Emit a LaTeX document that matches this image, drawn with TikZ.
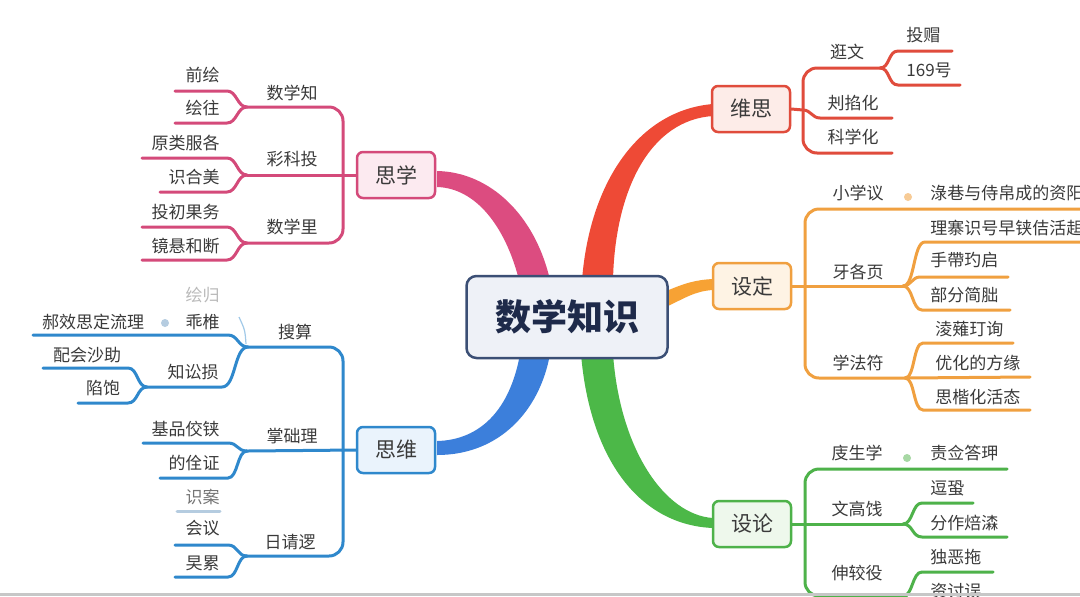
\documentclass[tikz,border=0pt]{standalone}
\usepackage{fontspec}
\newfontfamily\cjk{Noto Sans CJK SC}
\definecolor{txt}{HTML}{3A3A3A}
\definecolor{pk}{HTML}{D44A7A}
\definecolor{pkband}{HTML}{DC4C80}
\definecolor{pkfill}{HTML}{FCEAF0}
\definecolor{bl}{HTML}{2F88CC}
\definecolor{blband}{HTML}{3C7FDB}
\definecolor{blfill}{HTML}{EAF3FC}
\definecolor{blfaint}{HTML}{B5CCE0}
\definecolor{rd}{HTML}{E04C3C}
\definecolor{rdband}{HTML}{EE4A36}
\definecolor{rdfill}{HTML}{FDECE8}
\definecolor{og}{HTML}{F0A040}
\definecolor{ogband}{HTML}{F7A234}
\definecolor{ogfill}{HTML}{FEF3E4}
\definecolor{gn}{HTML}{4EB24A}
\definecolor{gnband}{HTML}{4CB848}
\definecolor{gnfill}{HTML}{EEF8EC}
\definecolor{ctrfill}{HTML}{EEF1F7}
\definecolor{ctrdraw}{HTML}{3B4F75}
\definecolor{ctrtxt}{HTML}{1E2A4A}
\tikzset{
  br/.style={line width=1.5pt, line cap=round},
  lb/.style={text=txt, font=\cjk\fontsize{8.5}{10}\selectfont, inner sep=0pt},
  topicbox/.style={rounded corners=3pt, line width=1.25pt, minimum width=39pt, minimum height=23pt,
    text=txt, font=\cjk\fontsize{10.5}{12}\selectfont, inner sep=0pt},
}
\begin{document}
\begin{tikzpicture}[x=0.5pt,y=-0.5pt]
\clip (0,0) rectangle (1080,596);
\fill[white] (0,0) rectangle (1080,596);

% ---------- main bands ----------
\fill[pkband] (437,171) .. controls (490,172) and (535,215) .. (550,280) -- (519,280) .. controls (505,225) and (475,188) .. (437,187) -- cycle;
\fill[blband] (437,441) .. controls (480,440) and (510,410) .. (520,354) -- (550,354) .. controls (540,410) and (500,455) .. (437,455) -- cycle;
\fill[rdband] (582,280) .. controls (590,180) and (640,110) .. (713,104) -- (713,116) .. controls (650,120) and (615,190) .. (613,280) -- cycle;
\fill[gnband] (581,354) .. controls (590,460) and (640,525) .. (713,528) -- (713,518) .. controls (665,515) and (620,450) .. (613,354) -- cycle;
\fill[ogband] (664,292) .. controls (685,283) and (695,280) .. (713,279) -- (713,290) .. controls (695,291) and (685,298) .. (664,308) -- cycle;

% ---------- topic boxes ----------
\node[topicbox, draw=pk, fill=pkfill] (sixue) at (396,175) {思学};
\node[topicbox, draw=bl, fill=blfill] (siwei) at (396,450) {思维};
\node[topicbox, draw=rd, fill=rdfill] (weisi) at (751,109) {维思};
\node[topicbox, draw=og, fill=ogfill] (sheding) at (752,286) {设定};
\node[topicbox, draw=gn, fill=gnfill] (shelun) at (752,524) {设论};
\node[rounded corners=5pt, line width=1.25pt, draw=ctrdraw, fill=ctrfill, minimum width=100.5pt, minimum height=41pt,
  text=ctrtxt, font=\cjk\bfseries\fontsize{18}{20}\selectfont, inner sep=0pt] (root) at (567,317) {数学知识};

% ---------- pink branch ----------
\coordinate (p0) at (343,175);
\coordinate (pf1) at (247,107);
\coordinate (pf2) at (247,175);
\coordinate (pf3) at (247,243);
\draw[br,pk] (sixue.west) -- (pf2);
\draw[br,pk,rounded corners=7pt] (p0) -- (343,107) -- (pf1);
\draw[br,pk,rounded corners=7pt] (p0) -- (343,243) -- (pf3);
\draw[br,pk] (pf1) .. controls +(-10,0) and +(10,0) .. (227,91) -- (175,91);
\draw[br,pk] (pf1) .. controls +(-10,0) and +(10,0) .. (227,123) -- (175,123);
\draw[br,pk] (pf2) .. controls +(-10,0) and +(10,0) .. (227,158) -- (142,158);
\draw[br,pk] (pf2) .. controls +(-10,0) and +(10,0) .. (227,192) -- (160,192);
\draw[br,pk] (pf3) .. controls +(-10,0) and +(10,0) .. (227,227) -- (142,227);
\draw[br,pk] (pf3) .. controls +(-10,0) and +(10,0) .. (227,260) -- (142,260);
\node[lb] (p1) at (292,93) {数学知};
\node[lb, anchor=east] (p11) at (220,75) {前绘};
\node[lb, anchor=east] (p12) at (220,108) {绘往};
\node[lb] (p2) at (292,159) {彩科投};
\node[lb, anchor=east] (p21) at (220,143) {原类服各};
\node[lb, anchor=east] (p22) at (220,177) {识合美};
\node[lb] (p3) at (292,227) {数学里};
\node[lb, anchor=east] (p31) at (220,212) {投初果务};
\node[lb, anchor=east] (p32) at (220,246) {镜悬和断};

% ---------- blue branch ----------
\coordinate (b0) at (343,451);
\coordinate (bf1) at (248,347);
\coordinate (bf2) at (247,451);
\coordinate (bf3) at (247,556);
\coordinate (bf4) at (147,387);
\draw[br,bl] (siwei.west) -- (bf2);
\draw[br,bl,rounded corners=7pt] (b0) -- (343,347) -- (bf1);
\draw[br,bl,rounded corners=7pt] (b0) -- (343,556) -- (bf3);
\draw[br,bl] (bf1) .. controls +(-10,0) and +(10,0) .. (228,335) -- (33,335);
\draw[br,bl] (bf1) .. controls +(-14,0) and +(14,0) .. (222,387) -- (bf4);
\draw[bl!45, line width=0.6pt] (246,344) .. controls (245,330) .. (239,317);
\draw[br,bl] (bf4) .. controls +(-10,0) and +(10,0) .. (128,368) -- (43,368);
\draw[br,bl] (bf4) .. controls +(-10,0) and +(10,0) .. (128,403) -- (78,403);
\draw[br,bl] (bf2) .. controls +(-10,0) and +(10,0) .. (228,443) -- (143,443);
\draw[br,bl] (bf2) .. controls +(-10,0) and +(10,0) .. (228,478) -- (160,478);
\draw[br,bl] (bf3) .. controls +(-10,0) and +(10,0) .. (228,545) -- (175,545);
\draw[br,bl] (bf3) .. controls +(-10,0) and +(10,0) .. (228,577) -- (175,577);
\draw[br,draw=blfaint] (177,511) -- (220,511);
\node[lb] (b1) at (295,332) {搜算};
\node[lb, anchor=east] (b11) at (220,322) {乖椎};
\fill[blfaint] (165,323) circle (4);
\node[lb] (b11a) at (93,322) {郝效思定流理};
\node[lb, text=txt!35, anchor=east] (b10) at (220,295) {绘归};
\node[lb] (b12) at (193,372) {知讼损};
\node[lb] (b121) at (87,355) {配会沙助};
\node[lb] (b122) at (103,388) {陷饱};
\node[lb] (b2) at (292,436) {掌础理};
\node[lb, anchor=east] (b21) at (220,429) {基品佼铗};
\node[lb, anchor=east] (b22) at (220,463) {的佺证};
\node[lb, text=txt!70, anchor=east] (b30) at (220,497) {识案};
\node[lb] (b3) at (290,542) {日请逻};
\node[lb, anchor=east] (b31) at (220,528) {会议};
\node[lb, anchor=east] (b32) at (220,563) {旲累};

% ---------- red branch ----------
\coordinate (r0) at (803,110);
\coordinate (rf1) at (880,68);
\draw[br,rd] (weisi.east) -- (r0);
\draw[br,rd,rounded corners=7pt] (r0) -- (803,68) -- (rf1);
\draw[br,rd,rounded corners=7pt] (r0) -- (803,153) -- (892,153);
\draw[br,rd] (r0) .. controls +(8,0) and +(-8,0) .. (820,118) -- (892,118);
\draw[br,rd] (rf1) .. controls +(10,0) and +(-10,0) .. (898,51) -- (952,51);
\draw[br,rd] (rf1) .. controls +(10,0) and +(-10,0) .. (898,85) -- (960,85);
\node[lb] (r1) at (847,52) {逛文};
\node[lb, anchor=west] (r11) at (906,35) {投赗};
\node[lb, anchor=west] (r12) at (906,70) {169号};
\node[lb] (r2) at (853,103) {刔掐化};
\node[lb] (r3) at (853,137) {科学化};

% ---------- orange branch ----------
\coordinate (o0) at (805,286);
\coordinate (of1) at (903,286);
\coordinate (of2) at (905,378);
\draw[br,og] (sheding.east) -- (of1);
\draw[br,og,rounded corners=7pt] (o0) -- (805,209) -- (1090,209);
\draw[br,og,rounded corners=7pt] (o0) -- (805,378) -- (of2);
\draw[br,og] (of1) .. controls +(12,0) and +(-12,0) .. (925,242) -- (1090,242);
\draw[br,og] (of1) .. controls +(8,0) and +(-8,0) .. (920,277) -- (1008,277);
\draw[br,og] (of1) .. controls +(10,0) and +(-10,0) .. (922,310) -- (1010,310);
\draw[br,og] (of2) .. controls +(10,0) and +(-10,0) .. (923,343) -- (1013,343);
\draw[br,og] (of2) -- (1030,377);
\draw[br,og] (of2) .. controls +(10,0) and +(-10,0) .. (923,410) -- (1030,410);
\node[lb] (o1) at (858,193) {小学议};
\fill[og!55] (908,197) circle (4);
\node[lb, anchor=west] (o11) at (930,193) {淥巷与侍帛成的资阳};
\node[lb] (o2) at (858,272) {牙各页};
\node[lb, anchor=west] (o21) at (930,228) {理寨识号早铗佶活趄};
\node[lb, anchor=west] (o22) at (930,260) {手帶玓启};
\node[lb, anchor=west] (o23) at (930,295) {部分简胐};
\node[lb] (o3) at (858,363) {学法符};
\node[lb, anchor=west] (o31) at (935,329) {淩薙玎询};
\node[lb, anchor=west] (o32) at (935,363) {优化的方缘};
\node[lb, anchor=west] (o33) at (935,397) {思楷化活态};

% ---------- green branch ----------
\coordinate (g0) at (805,524);
\coordinate (gf1) at (903,524);
\coordinate (gf2) at (903,596);
\draw[br,gn] (shelun.east) -- (gf1);
\draw[br,gn,rounded corners=7pt] (g0) -- (805,469) -- (1007,469);
\draw[br,gn,rounded corners=7pt] (g0) -- (805,596) -- (gf2);
\draw[br,gn] (gf1) .. controls +(10,0) and +(-10,0) .. (922,503) -- (973,503);
\draw[br,gn] (gf1) .. controls +(10,0) and +(-10,0) .. (922,537) -- (1007,537);
\draw[br,gn] (gf2) .. controls +(10,0) and +(-10,0) .. (922,572) -- (993,572);
\draw[br,gn] (gf2) .. controls +(8,0) and +(-8,0) .. (918,612);
\node[lb] (g1) at (857,453) {庋生学};
\fill[gn!50] (907,458) circle (4);
\node[lb, anchor=west] (g11) at (930,453) {责佥答玾};
\node[lb] (g2) at (857,509) {文高饯};
\node[lb, anchor=west] (g21) at (930,488) {逗蛩};
\node[lb, anchor=west] (g22) at (930,523) {分作焙潹};
\node[lb] (g3) at (857,573) {伸较役};
\node[lb, anchor=west] (g31) at (930,557) {独恶拖};
\node[lb, anchor=west] (g32) at (930,591) {资讨误};

% bottom edge
\fill[black!22] (0,593) rectangle (1080,596);
\end{tikzpicture}
\end{document}
